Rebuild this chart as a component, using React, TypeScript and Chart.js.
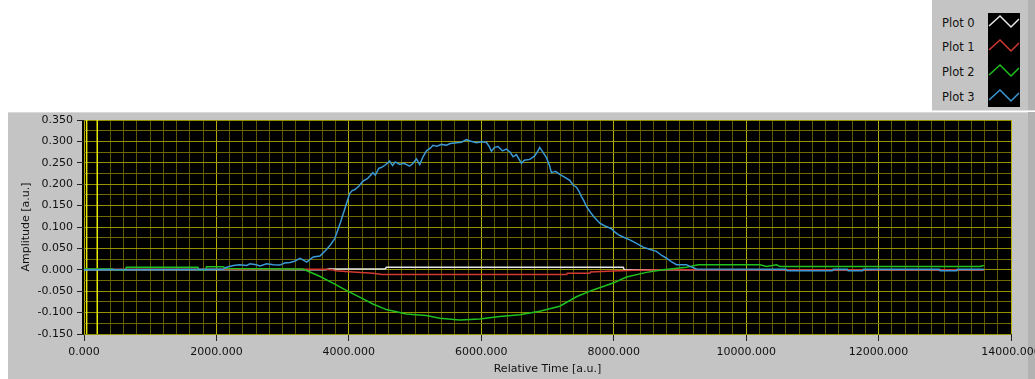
import React, { useEffect, useRef } from 'react';
import { Chart, registerables } from 'chart.js';

Chart.register(...registerables);

// ---------- data ----------
const seriesNames = ['Plot 0', 'Plot 1', 'Plot 2', 'Plot 3'];
const seriesColors = ['#e6e6e6', '#d33a32', '#1fc11f', '#3a9ad6'];

const plot0Time = [0, 3650, 3700, 4550, 4566, 8143, 8160, 13590];
const plot0Value = [0, 0, 0.002, 0.002, 0.006, 0.006, 0, 0];

const plot1Time = [0, 3650, 3700, 3760, 3800, 4062, 4364, 4500, 7290, 7300, 7640, 7650, 7991, 8300, 8746, 13590];
const plot1Value = [0.001, 0.001, 0, 0, -0.002, -0.005, -0.008, -0.011, -0.011, -0.008, -0.008, -0.005, -0.003, -0.001, 0, 0];

const plot2Time = [0, 430, 450, 630, 640, 1720, 1730, 1840, 1850, 2100, 2150, 3300, 3332, 3558, 3760, 3961, 4163, 4364, 4566, 4868, 5171, 5372, 5674, 5976, 6278, 6580, 6883, 7185, 7437, 7689, 7991, 8193, 8495, 8746, 9099, 9275, 10207, 10308, 10459, 10509, 13531, 13590];
const plot2Value = [0.002, 0.002, 0, 0, 0.006, 0.006, 0, 0, 0.007, 0.007, 0.003, 0.002, 0, -0.015, -0.031, -0.048, -0.064, -0.08, -0.093, -0.103, -0.107, -0.113, -0.117, -0.115, -0.109, -0.105, -0.097, -0.085, -0.063, -0.047, -0.031, -0.017, -0.006, 0, 0.006, 0.012, 0.012, 0.008, 0.012, 0.008, 0.008, 0.01];

const plot3Time = [0, 2100, 2155, 2255, 2350, 2457, 2507, 2600, 2658, 2759, 2860, 2960, 3030, 3111, 3180, 3262, 3320, 3363, 3463, 3564, 3666, 3720, 3785, 3861, 3936, 4012, 4050, 4087, 4150, 4213, 4280, 4364, 4400, 4450, 4490, 4560, 4616, 4660, 4700, 4767, 4830, 4918, 4970, 5020, 5070, 5120, 5171, 5230, 5271, 5330, 5400, 5473, 5530, 5624, 5700, 5775, 5830, 5926, 6000, 6077, 6120, 6153, 6200, 6253, 6320, 6379, 6440, 6480, 6530, 6606, 6650, 6732, 6807, 6860, 6883, 6930, 6984, 7030, 7059, 7120, 7185, 7250, 7336, 7386, 7437, 7480, 7513, 7550, 7588, 7650, 7700, 7790, 7860, 7966, 8010, 8066, 8150, 8243, 8330, 8444, 8540, 8646, 8720, 8797, 8870, 8948, 9099, 9150, 9250, 10600, 10620, 11300, 11320, 11530, 11540, 11760, 11770, 12920, 12930, 13180, 13190, 13590];
const plot3Value = [0, 0.001, 0.006, 0.01, 0.012, 0.01, 0.014, 0.012, 0.009, 0.014, 0.012, 0.011, 0.016, 0.017, 0.02, 0.027, 0.022, 0.018, 0.03, 0.032, 0.048, 0.058, 0.072, 0.105, 0.141, 0.178, 0.185, 0.187, 0.195, 0.207, 0.213, 0.227, 0.221, 0.237, 0.239, 0.246, 0.254, 0.244, 0.252, 0.246, 0.249, 0.242, 0.249, 0.259, 0.246, 0.264, 0.278, 0.284, 0.291, 0.289, 0.293, 0.291, 0.295, 0.297, 0.298, 0.304, 0.301, 0.297, 0.299, 0.298, 0.288, 0.277, 0.286, 0.288, 0.278, 0.282, 0.274, 0.264, 0.269, 0.249, 0.256, 0.258, 0.266, 0.279, 0.286, 0.275, 0.262, 0.244, 0.227, 0.23, 0.223, 0.217, 0.209, 0.198, 0.193, 0.182, 0.171, 0.161, 0.148, 0.134, 0.124, 0.109, 0.103, 0.096, 0.089, 0.082, 0.076, 0.07, 0.063, 0.053, 0.048, 0.043, 0.034, 0.027, 0.019, 0.012, 0.012, 0.008, 0.002, 0.001, -0.002, -0.002, 0.001, 0.001, -0.002, -0.002, 0.001, 0.001, -0.002, -0.002, 0.001, 0.001];

const cursorTimes = [40, 200];

const xMin = 0;
const xMax = 14000;
const xMinorStep = 200;
const xMajorStep = 2000;
const yMin = -0.15;
const yMax = 0.35;
const yMinorStep = 0.025;
const yMajorStep = 0.05;

const xTitle = 'Relative Time [a.u.]';
const yTitle = 'Amplitude [a.u.]';

// ---------- styles ----------
const FONT = "'DejaVu Sans', 'Liberation Sans', sans-serif";
const PANEL_GRAY = '#c4c4c4';
const GRID_MAJOR_V = 'rgb(180, 175, 0)';
const GRID_MINOR_V = 'rgb(95, 90, 0)';
const GRID_MAJOR_H = 'rgb(150, 145, 0)';
const GRID_MINOR_H = 'rgb(110, 105, 0)';
const CURSOR = '#e8e800';

const toPoints = (t: number[], v: number[]) => t.map((x, i) => ({ x, y: v[i] }));

const isXMajor = (v: number) => Math.round(v) % xMajorStep === 0;
const isYMajor = (v: number) => Math.round(v * 1000) % Math.round(yMajorStep * 1000) === 0;

const panelPlugin = {
  id: 'panelPlugin',
  beforeDraw(chart: any) {
    const { ctx, chartArea, width, height } = chart;
    ctx.save();
    ctx.fillStyle = '#ffffff';
    ctx.fillRect(0, 0, width, height);
    ctx.fillStyle = PANEL_GRAY;
    ctx.fillRect(8, 112, 1020, height - 112);
    ctx.fillStyle = '#b2b2b2';
    ctx.fillRect(1028, 112, 7, height - 112);
    ctx.fillStyle = '#d8d8d8';
    ctx.fillRect(8, 112, 1020, 1);
    ctx.fillStyle = '#000000';
    ctx.fillRect(chartArea.left - 2, chartArea.top, chartArea.right - chartArea.left + 2, chartArea.bottom - chartArea.top);
    ctx.restore();
  },
};

function LegendIcon({ color }: { color: string }) {
  return (
    <svg width={32} height={16} style={{ display: 'block' }}>
      <polyline points="1,12 12,2 23,13 31,5" fill="none" stroke={color} strokeWidth={1.5} />
    </svg>
  );
}

export default function App() {
  const canvasRef = useRef<HTMLCanvasElement | null>(null);

  useEffect(() => {
    if (!canvasRef.current) return;
    Chart.defaults.font.family = FONT;
    Chart.defaults.font.size = 11;
    Chart.defaults.color = '#111111';

    const seriesTimes = [plot0Time, plot1Time, plot2Time, plot3Time];
    const seriesValues = [plot0Value, plot1Value, plot2Value, plot3Value];
    const drawOrder = [3, 2, 1, 0];

    const datasets: any[] = seriesNames.map((name, i) => ({
      label: name,
      data: toPoints(seriesTimes[i], seriesValues[i]),
      borderColor: seriesColors[i],
      borderWidth: 1.5,
      pointRadius: 0,
      tension: 0,
      fill: false,
      order: drawOrder[i],
    }));
    cursorTimes.forEach((t, i) => {
      datasets.push({
        label: 'cursor' + i,
        data: [{ x: t, y: yMin }, { x: t, y: yMax }],
        borderColor: CURSOR,
        borderWidth: 1.5,
        pointRadius: 0,
        fill: false,
        order: 10 + i,
      });
    });

    const chart = new Chart(canvasRef.current, {
      type: 'line',
      data: { datasets },
      plugins: [panelPlugin],
      options: {
        animation: false,
        responsive: false,
        maintainAspectRatio: false,
        layout: { padding: { left: 0, top: 120, right: 24, bottom: 0 } },
        plugins: { legend: { display: false }, tooltip: { enabled: false } },
        scales: {
          x: {
            type: 'linear',
            min: xMin,
            max: xMax,
            border: { display: false },
            grid: {
              color: (c: any) => (isXMajor(c.tick.value) ? GRID_MAJOR_V : GRID_MINOR_V),
              tickColor: (c: any) => (isXMajor(c.tick.value) ? '#222222' : 'rgba(0,0,0,0)'),
              tickLength: 7,
              lineWidth: 1,
            },
            ticks: {
              stepSize: xMinorStep,
              autoSkip: false,
              maxRotation: 0,
              minRotation: 0,
              maxTicksLimit: 200,
              padding: 5,
              color: '#111111',
              callback: (v: any) => (isXMajor(Number(v)) ? Number(v).toFixed(3) : ''),
            },
            title: {
              display: true,
              text: xTitle,
              color: '#111111',
              padding: { top: 0, bottom: 3 },
            },
            afterFit: (scale: any) => {
              scale.height = 45;
              scale.paddingLeft = 0;
              scale.paddingRight = 0;
            },
          },
          y: {
            type: 'linear',
            min: yMin,
            max: yMax,
            border: { display: false },
            grid: {
              color: (c: any) => (isYMajor(c.tick.value) ? GRID_MAJOR_H : GRID_MINOR_H),
              tickColor: (c: any) => (isYMajor(c.tick.value) ? '#222222' : 'rgba(0,0,0,0)'),
              tickLength: 7,
              lineWidth: 1,
            },
            ticks: {
              stepSize: yMinorStep,
              autoSkip: false,
              maxTicksLimit: 200,
              padding: 4,
              color: '#111111',
              callback: (v: any) => (isYMajor(Number(v)) ? Number(v).toFixed(3) : ''),
            },
            title: {
              display: true,
              text: yTitle,
              color: '#111111',
              padding: { top: 20, bottom: 0 },
            },
            afterFit: (scale: any) => {
              scale.width = 84;
              scale.paddingTop = 0;
              scale.paddingBottom = 0;
            },
          },
        },
      } as any,
    });
    return () => chart.destroy();
  }, []);

  const rowCenters = [22.5, 47.3, 72.1, 96.9];

  return (
    <div style={{ position: 'absolute', left: 0, top: 0, width: 1035, height: 379, background: '#fff', overflow: 'hidden' }}>
      <canvas ref={canvasRef} width={1035} height={379} style={{ position: 'absolute', left: 0, top: 0, width: 1035, height: 379 }} />
      <div style={{ position: 'absolute', left: 932, top: 0, width: 103, height: 110, background: PANEL_GRAY, borderBottom: '1px solid #e2e2e2' }}>
        <div style={{ position: 'absolute', right: 0, top: 0, width: 7, height: 110, background: '#b2b2b2' }} />
        <div style={{ position: 'absolute', left: 56, top: 13, width: 32, height: 94, background: '#000' }} />
        {seriesNames.map((name, i) => (
          <React.Fragment key={name}>
            <div
              style={{
                position: 'absolute',
                left: 10,
                top: rowCenters[i] - 8,
                height: 16,
                lineHeight: '16px',
                fontFamily: FONT,
                fontSize: 11.5,
                color: '#111',
                whiteSpace: 'nowrap',
              }}
            >
              {name}
            </div>
            <div style={{ position: 'absolute', left: 56, top: rowCenters[i] - 9 }}>
              <LegendIcon color={seriesColors[i]} />
            </div>
          </React.Fragment>
        ))}
      </div>
    </div>
  );
}
